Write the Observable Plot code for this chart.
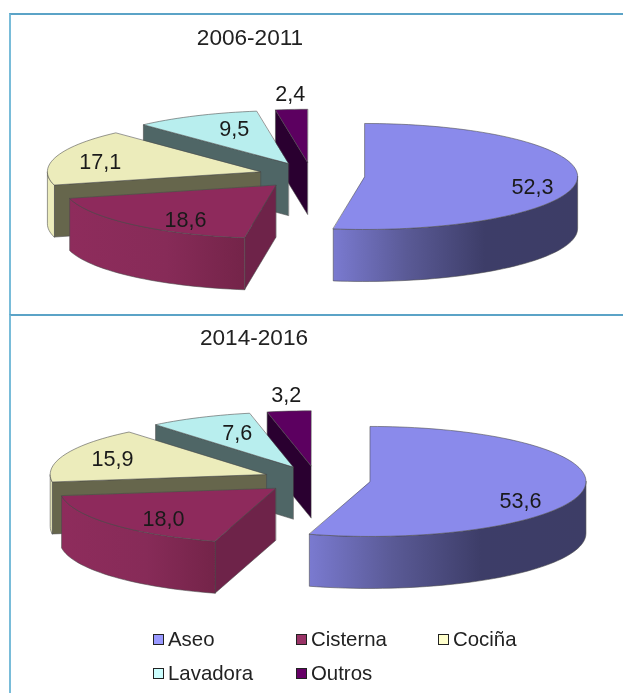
<!DOCTYPE html>
<html><head><meta charset="utf-8">
<script src="https://cdn.jsdelivr.net/npm/d3@7"></script>
<script src="https://cdn.jsdelivr.net/npm/@observablehq/plot@0.6"></script>
<style>
html,body{margin:0;background:#fff;}
#chart{position:relative;width:623px;height:693px;overflow:hidden;font-family:"Liberation Sans",Arial,sans-serif;color:#222;filter:blur(0.35px);}
.panel{position:absolute;left:0;width:623px;}
.panel svg{display:block;background:transparent;}
.frame{position:absolute;left:9px;width:614px;border-top:2px solid #5ba3c7;border-left:2px solid #79bcd9;box-sizing:border-box;}
.sw{position:absolute;width:11px;height:11px;border:1.5px solid #222;box-sizing:border-box;}
.lg{position:absolute;font-size:20.4px;line-height:24px;white-space:nowrap;}
</style></head><body><div id="chart"></div>
<script>
const categories = ["Aseo", "Cisterna", "Cociña", "Lavadora", "Outros"];
const values2006 = [52.3, 18.6, 17.1, 9.5, 2.4];
const values2014 = [53.6, 18.0, 15.9, 7.6, 3.2];
const labels2006 = ["52,3", "18,6", "17,1", "9,5", "2,4"];
const labels2014 = ["53,6", "18,0", "15,9", "7,6", "3,2"];
const topColors = ["#8a8aeb", "#8e2a5c", "#ececbb", "#b8eeee", "#5c0060"];
const wallColors = ["#3d3d66", "#6e2349", "#66664c", "#4f6666", "#2a0030"];
const legendColors = ["#9999ff", "#993366", "#ffffcc", "#ccffff", "#660066"];
const EXPLODE = 0.25;
const rad = d => d * Math.PI / 180;

function pie(opts) {
  const {values, labels, title, titleX, titleY, cx, cy, rx, ry, depth, height, labelPos} = opts;
  const total = d3.sum(values);
  let a = 0;
  const slices = values.map((v, i) => {
    const a0 = a; a += v / total * 360;
    const mid = (a0 + a) / 2;
    return {i, a0, a1: a, mid, ou: EXPLODE * Math.sin(rad(mid)), ov: -EXPLODE * Math.cos(rad(mid))};
  });
  const dz = depth / ry;
  const P = (s, ang, z = 0) => ({u: s.ou + Math.sin(rad(ang)), v: s.ov - Math.cos(rad(ang)) + z});
  const apex = (s, z = 0) => ({u: s.ou, v: s.ov + z});
  const arc = (s, a0, a1, z = 0) => {
    const n = Math.max(2, Math.ceil((a1 - a0) / 2));
    return d3.range(n + 1).map(k => P(s, a0 + (a1 - a0) * k / n, z));
  };
  const face = (pts, fill, stroke = "#4a4a4a") => Plot.line(pts, {x: "u", y: "v", fill, stroke, strokeWidth: 0.7, strokeOpacity: 0.8, curve: "linear-closed"});

  const gid = "g" + title.slice(0, 4);
  const defs = () => {
    const d = d3.create("svg:defs");
    const grad = (id, stops) => {
      const g = d.append("linearGradient").attr("id", id).attr("x1", 0).attr("x2", 1).attr("y1", 0).attr("y2", 0);
      stops.forEach(([o, c]) => g.append("stop").attr("offset", o).attr("stop-color", c));
    };
    grad(gid + "a", [[0, "#7a7ad0"], [0.3, "#5a5a96"], [0.62, "#3d3d68"], [1, "#3d3d66"]]);
    grad(gid + "c", [[0, "#8e2c5c"], [0.55, "#872b58"], [1, "#742449"]]);
    return d.node();
  };

  // painter's order: back slices first
  const order = [4, 3, 2, 1, 0];
  const marks = [defs];
  for (const i of order) {
    const s = slices[i];
    // outer wall on the near half of the rim (90deg..270deg)
    const w0 = Math.max(s.a0, 90), w1 = Math.min(s.a1, 270);
    if (i !== 0) {
      marks.push(face([apex(s), P(s, s.a0), P(s, s.a0, dz), apex(s, dz)], wallColors[i]));
    }
    if (w1 > w0) {
      const wall = [...arc(s, w0, w1), ...arc(s, w0, w1, dz).reverse()];
      const fill = i === 0 ? `url(#${gid}a)` : i === 1 ? `url(#${gid}c)` : topColors[i];
      marks.push(face(wall, fill));
    }
    marks.push(face([apex(s), ...arc(s, s.a0, s.a1)], topColors[i]));
  }
  const labelRows = slices.map((s, i) => {
    const [r, dt] = labelPos[i];
    const t = rad(s.mid + dt);
    return {u: s.ou + r * Math.sin(t), v: s.ov - r * Math.cos(t), t: labels[i]};
  });
  marks.push(Plot.text(labelRows, {x: "u", y: "v", text: "t", fontSize: 21.6, fill: "#1a1a1a", fontFamily: "Liberation Sans"}));
  const W = 623;
  const xDom = [-cx / rx, (W - cx) / rx], yDom = [-cy / ry, (height - cy) / ry];
  const plot = Plot.plot({
    width: W, height, margin: 0,
    x: {domain: xDom, range: [0, W], axis: null},
    y: {domain: yDom, range: [0, height], axis: null},
    style: {background: "transparent", overflow: "visible"},
    marks: [
      ...marks,
      Plot.text([title], {x: (titleX - cx) / rx, y: (titleY - cy) / ry, text: d => d, fontSize: 22.6, fill: "#222", fontFamily: "Liberation Sans"})
    ]
  });
  return plot;
}

const chart = document.getElementById("chart");
function addFrame(top, height) {
  const f = document.createElement("div");
  f.className = "frame"; f.style.top = top + "px"; f.style.height = height + "px";
  chart.appendChild(f);
}
addFrame(13, 302);
addFrame(314, 379);

const p1 = document.createElement("div"); p1.className = "panel"; p1.style.top = "0px";
p1.appendChild(pie({values: values2006, labels: labels2006, title: "2006-2011", titleX: 249.5, titleY: 37,
  cx: 311, cy: 175, rx: 213, ry: 53, depth: 52, height: 315,
  labelPos: [[0.816, 10.6], [0.785, -9.3], [0.775, -2.1], [0.69, 4.2], [1.285, 0.7]]}));
chart.appendChild(p1);

const p2 = document.createElement("div"); p2.className = "panel"; p2.style.top = "315px";
p2.appendChild(pie({values: values2014, labels: labels2014, title: "2014-2016", titleX: 253.5, titleY: 22,
  cx: 316, cy: 164, rx: 216, ry: 55, depth: 52, height: 310,
  labelPos: [[0.786, 19.4], [0.766, -6.6], [0.762, -0.3], [0.663, 2.7], [1.283, 0.75]]}));
chart.appendChild(p2);

const legendX = [153, 296, 438, 153, 296], legendY = [639, 639, 639, 673, 673];
categories.forEach((c, i) => {
  const s = document.createElement("div"); s.className = "sw";
  s.style.left = legendX[i] + "px"; s.style.top = (legendY[i] - 5) + "px"; s.style.background = legendColors[i];
  const t = document.createElement("div"); t.className = "lg"; t.textContent = c;
  t.style.left = (legendX[i] + 15) + "px"; t.style.top = (legendY[i] - 12) + "px";
  chart.appendChild(s); chart.appendChild(t);
});
</script></body></html>
